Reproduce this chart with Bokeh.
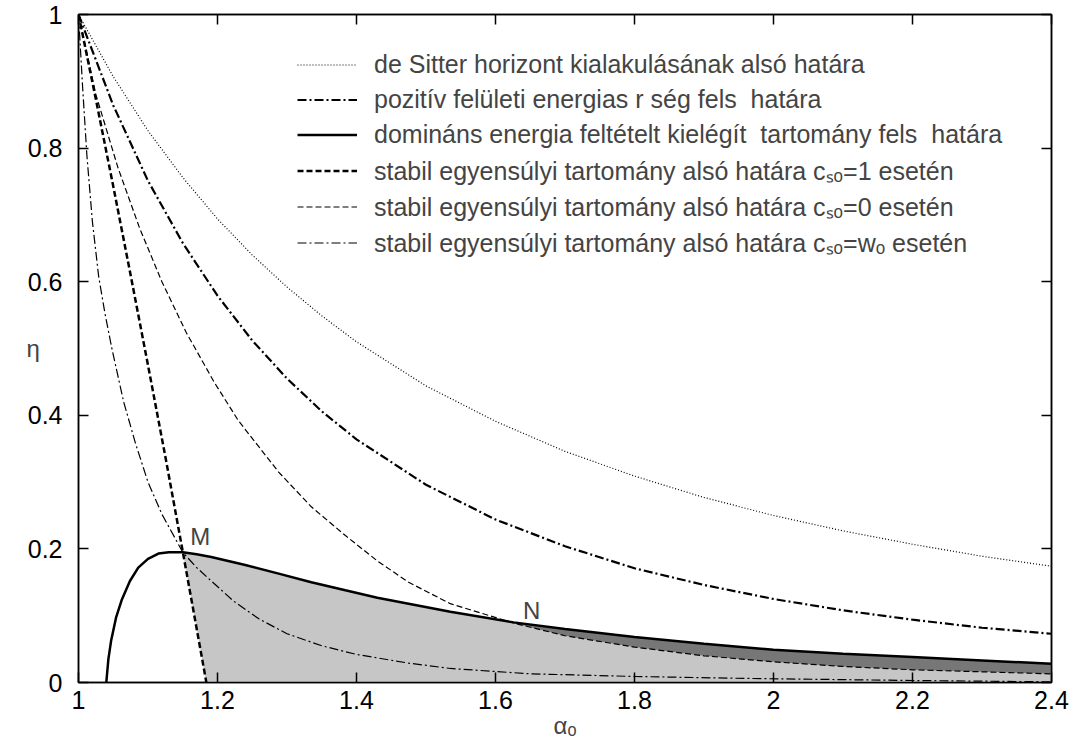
import numpy as np
from bokeh.plotting import figure
from bokeh.models import (Range1d, LinearAxis, FixedTicker, Legend, LegendItem, Label)
from bokeh.embed import file_html
from bokeh.resources import INLINE

# --- curve data: eta as a function of alpha_o -------------------------------
# de Sitter horizon lower bound
ds_a = [1.00, 1.05, 1.10, 1.15, 1.20, 1.25, 1.30, 1.35, 1.40, 1.50, 1.60, 1.70,
        1.80, 1.90, 2.00, 2.10, 2.20, 2.30, 2.40]
ds_eta = [1.000, 0.907, 0.826, 0.756, 0.694, 0.640, 0.592, 0.549, 0.510, 0.444,
          0.391, 0.346, 0.309, 0.277, 0.250, 0.227, 0.207, 0.189, 0.174]

# positive surface energy density upper bound
pos_a = [1.00, 1.05, 1.10, 1.15, 1.20, 1.25, 1.30, 1.35, 1.40, 1.50, 1.60, 1.70,
         1.80, 1.90, 2.00, 2.10, 2.20, 2.30, 2.40]
pos_eta = [1.000, 0.864, 0.751, 0.658, 0.579, 0.512, 0.455, 0.406, 0.364, 0.296,
           0.244, 0.204, 0.171, 0.146, 0.125, 0.108, 0.094, 0.082, 0.073]

# dominant energy condition upper bound
dom_a = [1.040, 1.043, 1.047, 1.054, 1.062, 1.074, 1.086, 1.100, 1.115, 1.130,
         1.150, 1.170, 1.191, 1.240, 1.288, 1.335, 1.384, 1.430, 1.475, 1.535,
         1.626, 1.700, 1.800, 1.900, 2.000, 2.100, 2.200, 2.300, 2.400]
dom_eta = [0.000, 0.035, 0.063, 0.097, 0.123, 0.152, 0.172, 0.185, 0.193, 0.195,
           0.195, 0.192, 0.188, 0.176, 0.163, 0.150, 0.138, 0.127, 0.118, 0.106,
           0.090, 0.080, 0.068, 0.058, 0.049, 0.043, 0.038, 0.033, 0.028]

# stable equilibrium lower bound, c_so = 1
c1_a = [1.000, 1.025, 1.050, 1.075, 1.100, 1.125, 1.150, 1.167, 1.184]
c1_eta = [1.000, 0.873, 0.743, 0.610, 0.475, 0.338, 0.196, 0.098, 0.000]

# stable equilibrium lower bound, c_so = 0
c0_a = [1.000, 1.025, 1.057, 1.088, 1.120, 1.155, 1.195, 1.230, 1.288, 1.335,
        1.384, 1.430, 1.475, 1.535, 1.626, 1.700, 1.800, 1.900, 2.000, 2.100,
        2.200, 2.300, 2.400]
c0_eta = [1.000, 0.880, 0.770, 0.680, 0.600, 0.524, 0.450, 0.392, 0.315, 0.263,
          0.220, 0.182, 0.150, 0.118, 0.089, 0.070, 0.053, 0.040, 0.031, 0.024,
          0.019, 0.016, 0.013]

# stable equilibrium lower bound, c_so = w_o
wo_a = [1.000, 1.006, 1.012, 1.020, 1.029, 1.038, 1.048, 1.065, 1.082, 1.100,
        1.120, 1.150, 1.170, 1.191, 1.223, 1.260, 1.300, 1.350, 1.400, 1.475,
        1.535, 1.650, 1.800, 1.967, 2.200, 2.400]
wo_eta = [1.000, 0.890, 0.790, 0.690, 0.608, 0.553, 0.500, 0.420, 0.358, 0.300,
          0.252, 0.195, 0.172, 0.152, 0.122, 0.095, 0.073, 0.055, 0.042, 0.029,
          0.021, 0.013, 0.009, 0.006, 0.003, 0.001]

# intersection points
m_alpha = 1.150
n_alpha = 1.626
m_label = "M"
n_label = "N"

x_ticks = [1.0, 1.2, 1.4, 1.6, 1.8, 2.0, 2.2, 2.4]
x_tick_labels = ["1", "1.2", "1.4", "1.6", "1.8", "2", "2.2", "2.4"]
y_ticks = [0.0, 0.2, 0.4, 0.6, 0.8, 1.0]
y_tick_labels = ["0", "0.2", "0.4", "0.6", "0.8", "1"]

labels = [
    "de Sitter horizont kialakulásának alsó határa",
    "pozitív felületi energias r ség fels  határa",
    "domináns energia feltételt kielégít  tartomány fels  határa",
    "stabil egyensúlyi tartomány alsó határa c\u209b\u2092=1 esetén",
    "stabil egyensúlyi tartomány alsó határa c\u209b\u2092=0 esetén",
    "stabil egyensúlyi tartomány alsó határa c\u209b\u2092=w\u2092 esetén",
]

FONT = "Liberation Sans"
FS = "25px"
LFS = "25px"

p = figure(width=1082, height=745, x_range=Range1d(1.0, 2.4), y_range=Range1d(0.0, 1.0),
           output_backend="svg", toolbar_location=None,
           min_border_left=78, min_border_right=31, min_border_top=14, min_border_bottom=63)
p.xgrid.visible = False
p.ygrid.visible = False
p.outline_line_color = "black"
p.outline_line_width = 1.5
p.background_fill_color = "white"
p.border_fill_color = "white"

# --- shaded admissible region ---------------------------------------------
dom_a_arr = np.array(dom_a)
dom_eta_arr = np.array(dom_eta)
c1_a_arr = np.array(c1_a)
c1_eta_arr = np.array(c1_eta)
c0_a_arr = np.array(c0_a)
c0_eta_arr = np.array(c0_eta)

top = dom_a_arr >= m_alpha
edge = c1_a_arr >= m_alpha
region_x = list(dom_a_arr[top]) + [dom_a[-1], c1_a[-1]] + list(c1_a_arr[edge][::-1])
region_y = list(dom_eta_arr[top]) + [0.0, 0.0] + list(c1_eta_arr[edge][::-1])
p.patch(region_x, region_y, fill_color="#c6c6c6", line_color=None)

band_top = dom_a_arr >= n_alpha
band_bot = c0_a_arr >= n_alpha
band_x = list(dom_a_arr[band_top]) + list(c0_a_arr[band_bot][::-1])
band_y = list(dom_eta_arr[band_top]) + list(c0_eta_arr[band_bot][::-1])
p.patch(band_x, band_y, fill_color="#777777", line_color=None)

# --- boundary curves -------------------------------------------------------
r_ds = p.line(ds_a, ds_eta, line_color="black", line_width=1.2, line_dash="1 2")
r_pos = p.line(pos_a, pos_eta, line_color="black", line_width=2.2, line_dash="9 3 2 3")
r_dom = p.line(dom_a, dom_eta, line_color="black", line_width=2.5)
r_c1 = p.line(c1_a, c1_eta, line_color="black", line_width=2.5, line_dash="6 3")
r_c0 = p.line(c0_a, c0_eta, line_color="black", line_width=1.2, line_dash="6 3")
r_wo = p.line(wo_a, wo_eta, line_color="black", line_width=1.2, line_dash="9 3 2 3")

p.add_layout(Label(x=1.175, y=0.219, text=m_label, text_align="center",
                   text_baseline="middle", text_font=FONT, text_font_size="24px"))
p.add_layout(Label(x=1.652, y=0.108, text=n_label, text_align="center",
                   text_baseline="middle", text_font=FONT, text_font_size="24px"))

# --- axes ------------------------------------------------------------------
def style_axis(ax, ticks, show_labels):
    ax.ticker = FixedTicker(ticks=ticks)
    ax.major_tick_in = 10
    ax.major_tick_out = 0
    ax.minor_tick_line_color = None
    ax.axis_line_width = 1.5
    ax.major_tick_line_width = 1.5
    ax.major_label_text_font = FONT
    if show_labels:
        ax.major_label_text_font_size = FS
        ax.major_label_text_color = "black"
    else:
        ax.major_label_text_font_size = "1px"
        ax.major_label_text_color = None
        ax.major_label_standoff = 0

xa = p.xaxis[0]
ya = p.yaxis[0]
style_axis(xa, x_ticks, True)
style_axis(ya, y_ticks, True)
xa.major_label_overrides = dict(zip(x_ticks, x_tick_labels))
ya.major_label_overrides = dict(zip(y_ticks, y_tick_labels))
xa.major_label_standoff = 8
ya.major_label_standoff = 16
xa.axis_label = "\u03b1\u2092"
xa.axis_label_text_font = FONT
xa.axis_label_text_font_size = "24px"
xa.axis_label_text_font_style = "normal"
xa.axis_label_standoff = 0

ya.axis_label = "\u03b7"
ya.axis_label_text_font = FONT
ya.axis_label_text_font_size = "24px"
ya.axis_label_text_font_style = "normal"
ya.axis_label_standoff = -15
if "axis_label_orientation" in ya.properties():
    ya.axis_label_orientation = "horizontal"

ax_top = LinearAxis()
style_axis(ax_top, x_ticks, False)
p.add_layout(ax_top, "above")
ax_right = LinearAxis()
style_axis(ax_right, y_ticks, False)
p.add_layout(ax_right, "right")

# --- legend ----------------------------------------------------------------
legend = Legend(items=[LegendItem(label=t, renderers=[r]) for t, r in
                       zip(labels, [r_ds, r_pos, r_dom, r_c1, r_c0, r_wo])],
                location=(219, 423))
legend.border_line_color = None
legend.background_fill_alpha = 0
legend.glyph_width = 60
legend.glyph_height = 33
legend.label_height = 33
legend.spacing = 2
legend.padding = 0
legend.margin = 0
legend.label_standoff = 17
legend.label_text_font = FONT
legend.label_text_font_size = LFS
p.add_layout(legend)

open("out.html", "w").write(file_html(p, INLINE))
